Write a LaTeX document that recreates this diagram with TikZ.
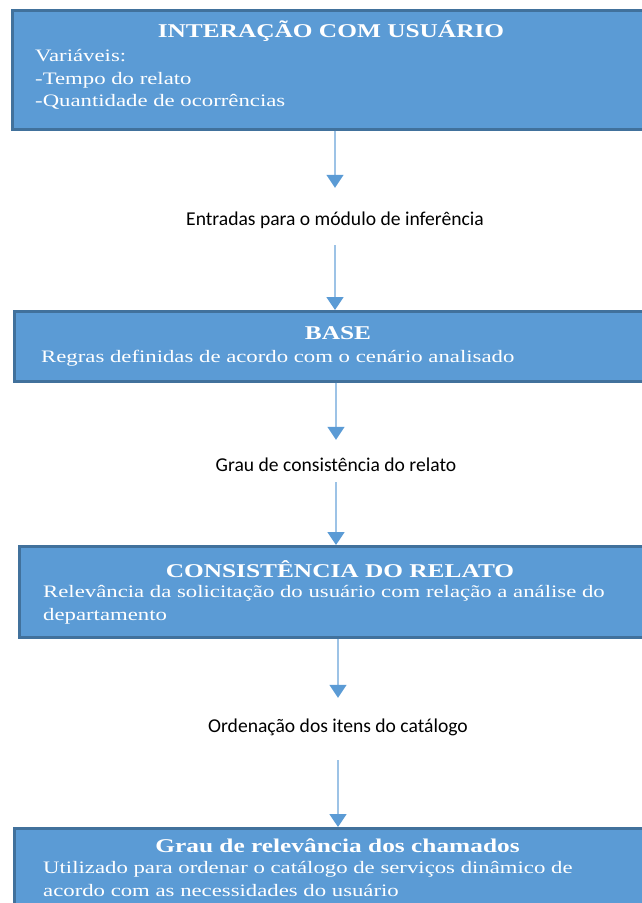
\documentclass[tikz,border=0pt]{standalone}
\usepackage{fontspec}
\usetikzlibrary{arrows.meta}
\newfontfamily\boxfont[FakeStretch=1.3]{Liberation Serif}
\newfontfamily\labfont{Carlito}
\definecolor{boxblue}{HTML}{5B9BD5}
\definecolor{boxedge}{HTML}{41719C}
\definecolor{lineblue}{HTML}{9DC3E6}

\begin{document}
\begin{tikzpicture}[x=1pt, y=-1pt, line join=miter,
  stage/.style={draw=boxedge, line width=2.5pt, fill=boxblue, anchor=north west, inner sep=0pt, minimum width=652pt},
  head/.style={text=white, font=\boxfont\bfseries\fontsize{19.5}{22}\selectfont, inner sep=0pt, anchor=base},
  body/.style={text=white, font=\boxfont\fontsize{17.5}{22.3}\selectfont, inner sep=0pt, anchor=base west, align=left},
  note/.style={font=\labfont\fontsize{19.6}{22}\selectfont, inner sep=0pt, anchor=base, text height=12pt, text depth=4pt},
  flow/.style={draw=lineblue, line width=1.5pt, -{Triangle[length=13pt,width=17pt,color=boxblue]}}]
  \clip (0,0) rectangle (642,903);
  % stages (body nodes sit on the baseline of their last line)
  \node[stage, minimum height=119pt] (usuario) at (11,9) {};
  \node[head] (usuarioT) at (331,37.5) {INTERAÇÃO COM USUÁRIO};
  \node[body] (usuarioB) at (35,106.3) {Variáveis:\\-Tempo do relato\\-Quantidade de ocorrências};
  \node[stage, minimum height=70pt] (base) at (13,310) {};
  \node[head] (baseT) at (338,339) {BASE};
  \node[body] (baseB) at (41,362) {Regras definidas de acordo com o cenário analisado};
  \node[stage, minimum height=91pt] (relato) at (18,545) {};
  \node[head] (relatoT) at (340,577) {CONSISTÊNCIA DO RELATO};
  \node[body] (relatoB) at (43,620) {Relevância da solicitação do usuário com relação a análise do\\departamento};
  \node[stage, minimum height=100pt] (chamados) at (13,827) {};
  \node[head] (chamadosT) at (337.5,852) {Grau de relevância dos chamados};
  \node[body] (chamadosB) at (43,896) {Utilizado para ordenar o catálogo de serviços dinâmico de\\acordo com as necessidades do usuário};
  % labels between the stages
  \node[note] (entradas) at (335,225) {Entradas para o módulo de inferência};
  \node[note] (grau) at (336,471) {Grau de consistência do relato};
  \node[note] (ordem) at (338,732) {Ordenação dos itens do catálogo};
  % flow
  \draw[flow, shorten >=25pt] (usuario.south -| entradas) -- (entradas.north);
  \draw[flow, shorten <=16pt] (entradas.south) -- (base.north -| entradas);
  \draw[flow, shorten >=19pt] (base.south -| grau) -- (grau.north);
  \draw[flow, shorten <=7pt] (grau.south) -- (relato.north -| grau);
  \draw[flow, shorten >=22pt] (relato.south -| ordem) -- (ordem.north);
  \draw[flow, shorten <=24pt] (ordem.south) -- (chamados.north -| ordem);
\end{tikzpicture}
\end{document}
